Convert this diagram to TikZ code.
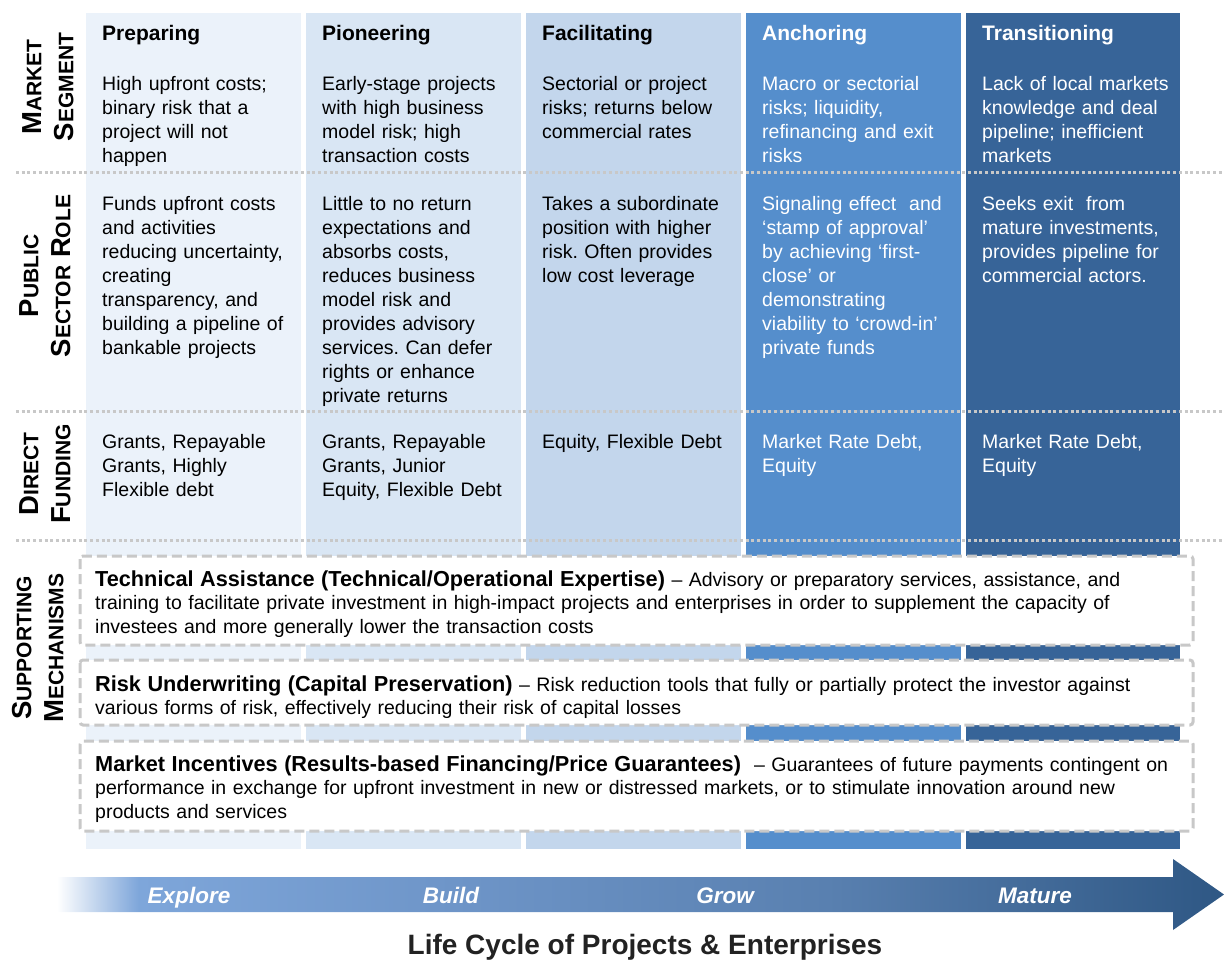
\documentclass[tikz,border=0pt]{standalone}
\usepackage{fontspec}
\setmainfont{Liberation Sans}
\frenchspacing

\definecolor{prepfill}{HTML}{EBF2FA}
\definecolor{pionfill}{HTML}{D9E6F4}
\definecolor{facfill}{HTML}{C3D6EC}
\definecolor{anchfill}{HTML}{558ECC}
\definecolor{transfill}{HTML}{376498}
\definecolor{dotgray}{HTML}{C8C8C8}
\definecolor{arrowlight}{HTML}{7EA6DA}
\definecolor{arrowmid}{HTML}{6E95C8}
\definecolor{arrowmidd}{HTML}{5980B0}
\definecolor{arrowdark}{HTML}{2E5784}
\definecolor{titlegray}{HTML}{222222}

\pgfdeclarehorizontalshading{lifecycle}{100bp}{color(0bp)=(white); color(25bp)=(white); color(28.5bp)=(arrowlight); color(42bp)=(arrowmid); color(58bp)=(arrowmidd); color(75bp)=(arrowdark); color(100bp)=(arrowdark)}

% fake small caps for the row labels
\newcommand{\capsc}[2]{#1{\fontsize{21}{32}\selectfont #2}}
\newcommand{\mechhead}[1]{{\fontsize{21.7}{23.5}\selectfont\bfseries #1}}

\tikzset{
  head/.style={anchor=base west, inner sep=0pt, font=\fontsize{21}{24}\selectfont\bfseries},
  cell/.style={anchor=base west, inner sep=0pt, text width=205pt, align=left, font=\fontsize{19.5}{24}\selectfont},
  rowlabel/.style={rotate=90, inner sep=0pt, align=center, font=\fontsize{27.5}{32}\selectfont\bfseries},
  divider/.style={dotgray, line width=3pt, dash pattern=on 3pt off 2.7pt},
  mechbox/.style={draw=dotgray, fill=white, line width=3pt, dash pattern=on 10pt off 5pt, rounded corners=3pt},
  mechtext/.style={anchor=base west, inner sep=0pt, text width=1095pt, align=left, font=\fontsize{19.5}{23.5}\selectfont},
  stage/.style={anchor=base, inner sep=0pt, text=white, font=\fontsize{22.5}{24}\selectfont\bfseries\itshape},
}

\begin{document}
\begin{tikzpicture}[x=1pt, y=-1pt]
\useasboundingbox (0,0) rectangle (1224,960);

% columns
\fill[prepfill] (86,13) rectangle (301,849);
\fill[pionfill] (306,13) rectangle (521,849);
\fill[facfill] (526,13) rectangle (741,849);
\fill[anchfill] (746,13) rectangle (961,849);
\fill[transfill] (966,13) rectangle (1180,849);

% row dividers
\draw[divider] (16,173) -- (1224,173);
\draw[divider] (16,411) -- (1224,411);
\draw[divider] (16,540) -- (1224,540);

% row labels
\draw (48,87) node[rowlabel] (labmarket) {\capsc{M}{ARKET}\\\capsc{S}{EGMENT}};
\draw (45,276) node[rowlabel] (labrole) {\capsc{P}{UBLIC}\\\capsc{S}{ECTOR} \capsc{R}{OLE}};
\draw (45,474) node[rowlabel] (labfund) {\capsc{D}{IRECT}\\\capsc{F}{UNDING}};
\draw (38,648) node[rowlabel] (labsupport) {\capsc{S}{UPPORTING}\\\capsc{M}{ECHANISMS}};

% headers
\draw (102,41) node[head] (hdprep) {Preparing};
\draw (322,41) node[head] (hdpion) {Pioneering};
\draw (542,41) node[head] (hdfac) {Facilitating};
\draw (762,41) node[head, text=white] (hdanch) {Anchoring};
\draw (982,41) node[head, text=white] (hdtrans) {Transitioning};

% market segment
\draw (102,91) node[cell] (msprep) {High upfront costs;\\binary risk that a\\project will not\\happen};
\draw (322,91) node[cell] (mspion) {Early-stage projects\\with high business\\model risk; high\\transaction costs};
\draw (542,91) node[cell] (msfac) {Sectorial or project\\risks; returns below\\commercial rates};
\draw (762,91) node[cell, text=white] (msanch) {Macro or sectorial\\risks; liquidity,\\refinancing and exit\\risks};
\draw (982,91) node[cell, text=white] (mstrans) {Lack of local markets\\knowledge and deal\\pipeline; inefficient\\markets};

% public sector role
\draw (102,211) node[cell] (roleprep) {Funds upfront costs\\and activities\\reducing uncertainty,\\creating\\transparency, and\\building a pipeline of\\bankable projects};
\draw (322,211) node[cell] (rolepion) {Little to no return\\expectations and\\absorbs costs,\\reduces business\\model risk and\\provides advisory\\services. Can defer\\rights or enhance\\private returns};
\draw (542,211) node[cell] (rolefac) {Takes a subordinate\\position with higher\\risk. Often provides\\low cost leverage};
\draw (762,211) node[cell, text=white] (roleanch) {Signaling effect\ \ and\\‘stamp of approval’\\by achieving ‘first-\\close’ or\\demonstrating\\viability to ‘crowd-in’\\private funds};
\draw (982,211) node[cell, text=white] (roletrans) {Seeks exit\ \ from\\mature investments,\\provides pipeline for\\commercial actors.};

% direct funding
\draw (102,448) node[cell] (fundprep) {Grants, Repayable\\Grants, Highly\\Flexible debt};
\draw (322,448) node[cell] (fundpion) {Grants, Repayable\\Grants, Junior\\Equity, Flexible Debt};
\draw (542,448) node[cell] (fundfac) {Equity, Flexible Debt};
\draw (762,448) node[cell, text=white] (fundanch) {Market Rate Debt,\\Equity};
\draw (982,448) node[cell, text=white] (fundtrans) {Market Rate Debt,\\Equity};

% supporting mechanisms
\draw[mechbox] (80,556) rectangle (1193,645);
\draw[mechbox] (80,660) rectangle (1193,725);
\draw[mechbox] (80,741) rectangle (1193,831);
\draw (95,586) node[mechtext] (mechta) {\mechhead{Technical Assistance (Technical/Operational Expertise)} – Advisory or preparatory services, assistance, and\\training to facilitate private investment in high-impact projects and enterprises in order to supplement the capacity of\\investees and more generally lower the transaction costs};
\draw (95,691) node[mechtext] (mechru) {\mechhead{Risk Underwriting (Capital Preservation)} – Risk reduction tools that fully or partially protect the investor against\\various forms of risk, effectively reducing their risk of capital losses};
\draw (95,771) node[mechtext] (mechmi) {\mechhead{Market Incentives (Results-based Financing/Price Guarantees)}\ \ – Guarantees of future payments contingent on\\performance in exchange for upfront investment in new or distressed markets, or to stimulate innovation around new\\products and services};

% life cycle arrow
\shade[shading=lifecycle] (57,877) -- (1173,877) -- (1173,859) -- (1224,894.5) -- (1173,930) -- (1173,912) -- (57,912) -- cycle;
\draw (189,903) node[stage] (stexplore) {Explore};
\draw (451,903) node[stage] (stbuild) {Build};
\draw (725,903) node[stage] (stgrow) {Grow};
\draw (1035,903) node[stage] (stmature) {Mature};
\draw (645,954) node[anchor=base, inner sep=0pt, text=titlegray, font=\fontsize{28}{30}\selectfont\bfseries] (title) {Life Cycle of Projects \& Enterprises};
\end{tikzpicture}
\end{document}
